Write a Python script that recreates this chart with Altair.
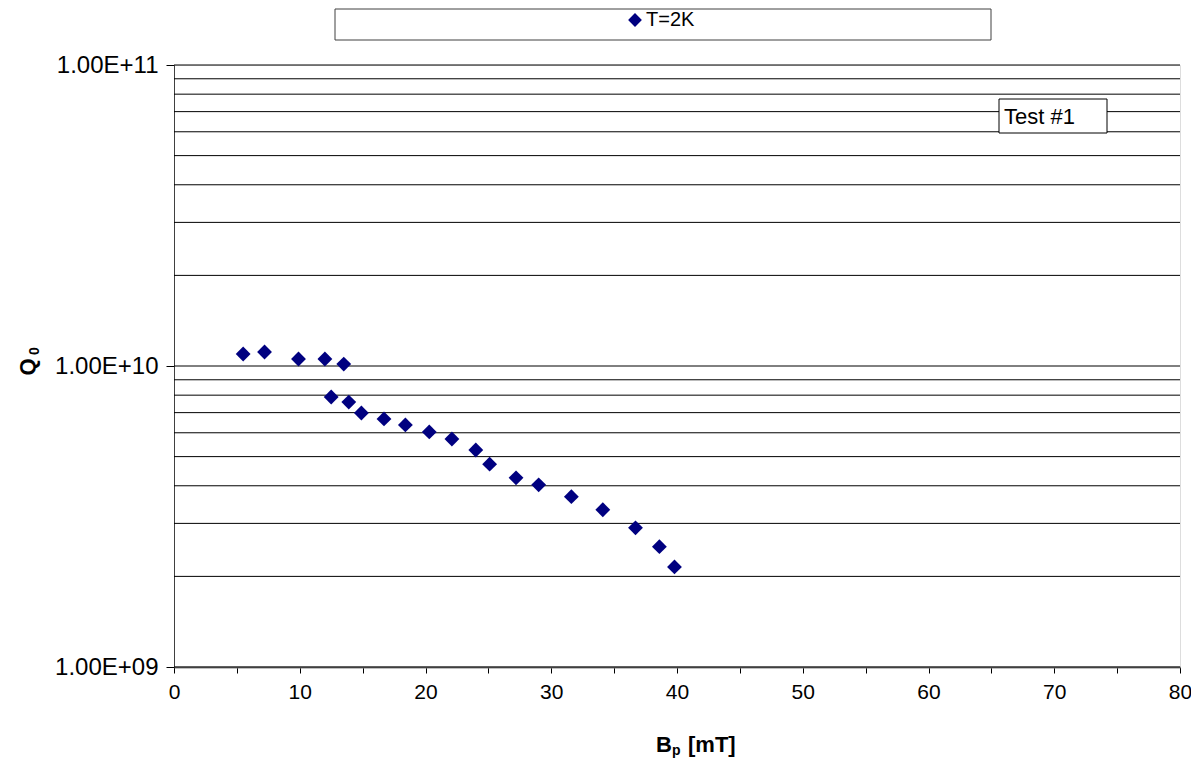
import altair as alt
import pandas as pd

# Data (B_p in mT, Q0)
bp = [5.5, 7.2, 9.9, 12.0, 13.5, 12.5, 13.9, 14.9, 16.7, 18.4, 20.3, 22.1,
      24.0, 25.1, 27.2, 29.0, 31.6, 34.1, 36.7, 38.6, 39.8]
q0 = [1.096e10, 1.113e10, 1.055e10, 1.055e10, 1.015e10, 7.89e9, 7.59e9, 6.98e9,
      6.67e9, 6.37e9, 6.04e9, 5.72e9, 5.26e9, 4.72e9, 4.25e9, 4.03e9, 3.68e9,
      3.33e9, 2.90e9, 2.51e9, 2.15e9]
series_name = "T=2K"

grid_vals = [m * 10 ** e for e in (9, 10) for m in range(1, 10)] + [1e11]
major_y = [1e9, 1e10, 1e11]
x_ticks = list(range(0, 81, 5))

FONT = "Liberation Sans"
W, H = 1006, 602

df = pd.DataFrame({"Bp": bp, "Q0": q0, "series": series_name})
grid_df = pd.DataFrame({"g": grid_vals})
one = alt.Data(values=[{}])

yscale = alt.Scale(type="log", domain=[1e9, 1e11])
xscale = alt.Scale(domain=[0, 80], nice=False)

y_label_expr = (
    "replace(upper(format(datum.value, '.2e')), /E\\+(\\d)$/, 'E+0$1')"
)

y_axis = alt.Axis(values=major_y, title=None, grid=False,
                  labelExpr=y_label_expr,
                  tickSize=8, tickColor="#000000", domainColor="#404040",
                  labelPadding=8, labelFontSize=24, labelFont=FONT,
                  labelColor="#000000")

grid = alt.Chart(grid_df).mark_rule(color="#000000", strokeWidth=1).encode(
    y=alt.Y("g:Q", scale=yscale, axis=y_axis)
)

points = alt.Chart(df).mark_point(filled=True, shape="diamond", size=220, opacity=1).encode(
    x=alt.X("Bp:Q", scale=xscale,
            axis=alt.Axis(values=x_ticks, title=None, grid=False,
                          labelExpr="datum.value % 10 == 0 ? datum.value : ''",
                          tickSize=6, tickColor="#000000", domainColor="#808080",
                          domainWidth=2, labelPadding=8, labelFontSize=21,
                          labelFont=FONT, labelColor="#000000", labelFlush=False)),
    y=alt.Y("Q0:Q", scale=yscale, axis=y_axis),
    color=alt.Color("series:N", scale=alt.Scale(domain=[series_name], range=["#000080"]),
                    legend=alt.Legend(title=None, orient="none", legendX=451, legendY=-55,
                                      symbolType="diamond", symbolSize=190,
                                      labelFontSize=20, labelFont=FONT,
                                      labelColor="#000000", labelOffset=1)),
)

legend_box = alt.Chart(one).mark_rect(fill="white", stroke="#404040", strokeWidth=1).encode(
    x=alt.value(161), x2=alt.value(817), y=alt.value(-56), y2=alt.value(-25)
)

test_box = alt.Chart(one).mark_rect(fill="white", stroke="#000000", strokeWidth=1).encode(
    x=alt.value(825), x2=alt.value(933), y=alt.value(34), y2=alt.value(68)
)
test_text = alt.Chart(one).mark_text(text="Test #1", align="left", baseline="middle",
                                     fontSize=22, font=FONT, color="#000000").encode(
    x=alt.value(830), y=alt.value(52)
)

xt_B = alt.Chart(one).mark_text(text="B", align="left", baseline="alphabetic",
                                fontSize=22, font=FONT, fontWeight="bold",
                                color="#000000").encode(x=alt.value(482), y=alt.value(687))
xt_p = alt.Chart(one).mark_text(text="p", align="left", baseline="alphabetic",
                                fontSize=14, font=FONT, fontWeight="bold",
                                color="#000000").encode(x=alt.value(498), y=alt.value(690))
xt_rest = alt.Chart(one).mark_text(text="[mT]", align="left", baseline="alphabetic",
                                   fontSize=22, font=FONT, fontWeight="bold",
                                   color="#000000").encode(x=alt.value(514), y=alt.value(687))

yt_Q = alt.Chart(one).mark_text(text="Q", angle=270, align="center", baseline="middle",
                                fontSize=22, font=FONT, fontWeight="bold",
                                color="#000000").encode(x=alt.value(-146), y=alt.value(302))
yt_0 = alt.Chart(one).mark_text(text="0", angle=270, align="center", baseline="middle",
                                fontSize=14, font=FONT, fontWeight="bold",
                                color="#000000").encode(x=alt.value(-139), y=alt.value(286))

chart = alt.layer(
    grid, legend_box, test_box, test_text, points, xt_B, xt_p, xt_rest, yt_Q, yt_0
).properties(
    width=W, height=H,
    autosize=alt.AutoSizeParams(type="none"),
    padding={"left": 166, "top": 57, "right": 11, "bottom": 91},
).configure_view(stroke=None).configure(background="white")

chart.save("out.html", embed_options={"renderer": "svg", "actions": False})
